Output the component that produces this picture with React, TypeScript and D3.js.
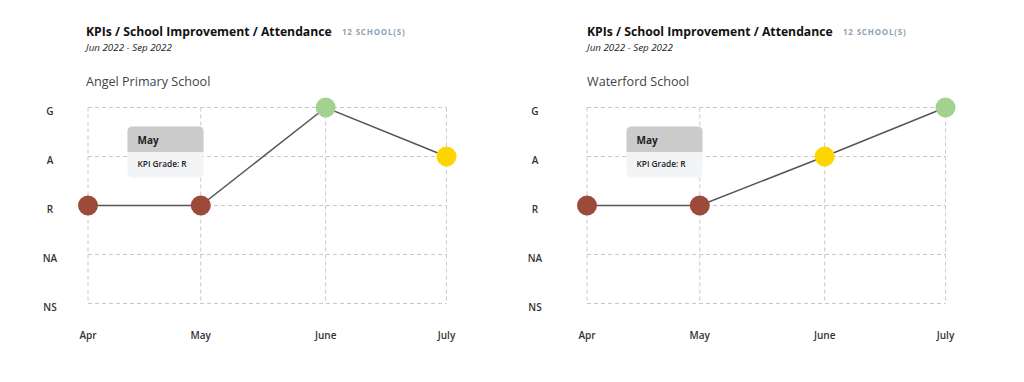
import React from "react";
import * as d3 from "d3";

const months = ["Apr", "May", "June", "July"];
const monthDates = ["2022-04-03", "2022-05-01", "2022-06-01", "2022-07-01"];
const grades = ["NS", "NA", "R", "A", "G"];
const schools = ["Angel Primary School", "Waterford School"];
const angelGrades = ["R", "R", "G", "A"];
const waterfordGrades = ["R", "R", "A", "G"];
const seriesBySchool = [angelGrades, waterfordGrades];
const title = "KPIs / School Improvement / Attendance";
const subtitle = "Jun 2022 - Sep 2022";
const schoolCount = "12 SCHOOL(S)";
const tooltipMonth = "May";
const tooltipText = "KPI Grade: R";

const gradeColor: Record<string, string> = {
  R: "#9e4a3b",
  A: "#ffd500",
  G: "#a3d18f",
  NA: "#cccccc",
  NS: "#cccccc",
};

const FONT = "'Open Sans', sans-serif";

function Panel({ idx }: { idx: number }) {
  const ox = idx * 499;
  const tox = idx * 501;
  const labelX = idx === 0 ? 50 : 535;
  const parse = d3.timeParse("%Y-%m-%d");
  const dates = monthDates.map((d) => parse(d) as Date);
  const x = d3
    .scaleTime()
    .domain([dates[0], dates[dates.length - 1]])
    .range([88 + ox, 446.5 + ox]);
  const y = d3.scalePoint().domain(grades).range([303.5, 107.5]);
  const data = seriesBySchool[idx].map((g, i) => ({ date: dates[i], g }));
  const line = d3
    .line<{ date: Date; g: string }>()
    .x((d) => x(d.date))
    .y((d) => y(d.g) as number);
  const x0 = x(dates[0]);
  const x1 = x(dates[dates.length - 1]);
  const yTop = y("G") as number;
  const yBot = y("NS") as number;
  const tx = 127.5 + ox;
  const ty = 126.5;
  return (
    <g>
      <text x={86 + tox} y={36} fontFamily={FONT} fontSize={12.2} fontWeight={700} fill="#111">
        {title}
      </text>
      <text
        x={342 + tox}
        y={35}
        fontFamily={FONT}
        fontSize={8}
        fontWeight={700}
        fill="#8ea3b5"
        letterSpacing={0.8}
      >
        {schoolCount}
      </text>
      <text x={86 + tox} y={51} fontFamily={FONT} fontSize={9.8} fontStyle="italic" fill="#222">
        {subtitle}
      </text>
      <text x={86 + tox} y={86} fontFamily={FONT} fontSize={12.6} fill="#444">
        {schools[idx]}
      </text>
      {grades.map((g) => (
        <line
          key={"h" + g}
          x1={x0}
          x2={x1}
          y1={y(g)}
          y2={y(g)}
          stroke="#c8c8c8"
          strokeDasharray="4,3"
          strokeWidth={1}
        />
      ))}
      {dates.map((d, i) => (
        <line
          key={"v" + i}
          x1={x(d)}
          x2={x(d)}
          y1={yTop}
          y2={yBot}
          stroke="#c8c8c8"
          strokeDasharray="4,3"
          strokeWidth={1}
        />
      ))}
      {grades.map((g) => (
        <text
          key={"yl" + g}
          x={labelX}
          y={(y(g) as number) + 7}
          textAnchor="middle"
          fontFamily={FONT}
          fontSize={10}
          fontWeight={600}
          fill="#333"
        >
          {g}
        </text>
      ))}
      {months.map((m, i) => (
        <text
          key={"xl" + m}
          x={x(dates[i])}
          y={339}
          textAnchor="middle"
          fontFamily={FONT}
          fontSize={10}
          fontWeight={600}
          fill="#333"
        >
          {m}
        </text>
      ))}
      <path d={line(data) || ""} fill="none" stroke="#555" strokeWidth={1.5} />
      {data.map((d, i) => (
        <circle key={"c" + i} cx={x(d.date)} cy={y(d.g)} r={10} fill={gradeColor[d.g]} />
      ))}
      <g>
        <rect x={tx} y={ty} width={76} height={51} rx={5} fill="#f3f4f6" />
        <path
          d={`M${tx},${ty + 25.5} V${ty + 5} Q${tx},${ty} ${tx + 5},${ty} H${tx + 71} Q${tx + 76},${ty} ${tx + 76},${ty + 5} V${ty + 25.5} Z`}
          fill="#cbcbcb"
        />
        <text x={tx + 10} y={ty + 17} fontFamily={FONT} fontSize={10} fontWeight={700} fill="#222">
          {tooltipMonth}
        </text>
        <text x={tx + 10} y={ty + 40} fontFamily={FONT} fontSize={8.3} fontWeight={600} fill="#222">
          {tooltipText}
        </text>
      </g>
    </g>
  );
}

export default function App() {
  return (
    <svg
      width={1024}
      height={382}
      style={{ position: "absolute", left: 0, top: 0, background: "#fff" }}
    >
      <rect width={1024} height={382} fill="#fff" />
      <Panel idx={0} />
      <Panel idx={1} />
    </svg>
  );
}
